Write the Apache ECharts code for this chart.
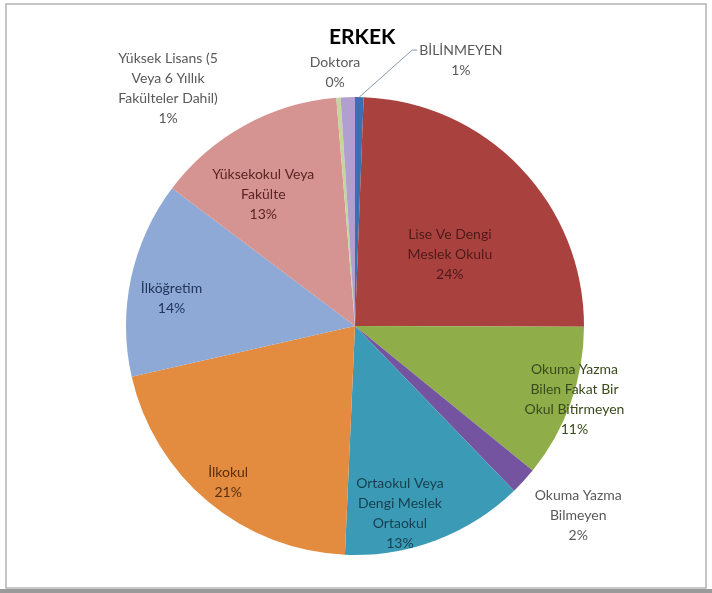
<!DOCTYPE html>
<html>
<head>
<meta charset="utf-8">
<script src="https://cdn.jsdelivr.net/npm/echarts@6/dist/echarts.min.js"></script>
<style>
  html, body { margin: 0; padding: 0; background: #fff; }
  #main { width: 712px; height: 593px; }
</style>
</head>
<body>
<div id="main"></div>
<script>
  // data, in the order Excel drew the slices (clockwise from 12 o'clock)
  var categories = [
    'BİLİNMEYEN',
    'Lise Ve Dengi Meslek Okulu',
    'Okuma Yazma Bilen Fakat Bir Okul Bitirmeyen',
    'Okuma Yazma Bilmeyen',
    'Ortaokul Veya Dengi Meslek Ortaokul',
    'İlkokul',
    'İlköğretim',
    'Yüksekokul Veya Fakülte',
    'Doktora',
    'Yüksek Lisans (5 Veya 6 Yıllık Fakülteler Dahil)'
  ];
  var shares = [0.6, 24.4, 10.8, 1.9, 12.9, 20.7, 13.8, 13.4, 0.3, 1.0];
  var labelNames = [
    'BİLİNMEYEN',
    'Lise Ve Dengi\nMeslek Okulu',
    'Okuma Yazma\nBilen Fakat Bir\nOkul Bitirmeyen',
    'Okuma Yazma\nBilmeyen',
    'Ortaokul Veya\nDengi Meslek\nOrtaokul',
    'İlkokul',
    'İlköğretim',
    'Yüksekokul Veya\nFakülte',
    'Doktora',
    'Yüksek Lisans (5\nVeya 6 Yıllık\nFakülteler Dahil)'
  ];

  var colors = ['#3c6eb4', '#a9423f', '#8fae4a', '#7453a0', '#3b9bb7',
                '#e38b3e', '#8ea9d6', '#d59391', '#c3d69b', '#b1a0cf'];
  var textColors = ['#595959', '#4e1a19', '#3a4a1c', '#595959', '#163f4d',
                    '#5a2f0c', '#22355a', '#5a2523', '#595959', '#595959'];
  // where excel put each label: [angle from 12 o'clock, fraction of radius]
  var labelPolar = [[21.7, 1.25], [52.8, 0.52], [108.4, 1.01], [130.4, 1.28], [166.5, 0.84],
                    [219, 0.88], [278.4, 0.81], [325.1, 0.70], [355.5, 1.11], [321.8, 1.32]];

  var CX = 355, CY = 326, R = 229;
  var total = shares.reduce(function (a, b) { return a + b; }, 0);

  var pieData = categories.map(function (name, i) {
    return {
      name: name,
      value: shares[i],
      itemStyle: { color: colors[i] },
      label: {
        position: i === 0 ? 'outside' : 'inside',
        color: textColors[i]
      },
      labelLine: { show: i === 0 }
    };
  });

  var chart = echarts.init(document.getElementById('main'));
  chart.setOption({
    backgroundColor: '#fff',
    animation: false,
    title: {
      text: 'ERKEK',
      left: 324,
      top: 22,
      textStyle: { fontFamily: 'Lato', fontSize: 21, fontWeight: 'bold', color: '#000' }
    },
    graphic: [{
      type: 'rect',
      shape: { x: 6, y: 4, width: 700, height: 584 },
      style: { fill: null, stroke: '#b4b4b4', lineWidth: 1.5 }
    }, {
      type: 'rect',
      shape: { x: 0, y: 589, width: 712, height: 4 },
      style: { fill: '#9a9a9a' }
    }],
    series: [{
      type: 'pie',
      center: [CX, CY],
      radius: R,
      startAngle: 90,
      clockwise: true,
      avoidLabelOverlap: false,
      data: pieData,
      label: {
        fontFamily: 'Lato',
        fontSize: 14,
        lineHeight: 20,
        align: 'center',
        formatter: function (p) {
          return labelNames[p.dataIndex] + '\n' + Math.round(p.percent) + '%';
        }
      },
      labelLine: { lineStyle: { color: '#8497b0', width: 1 } },
      labelLayout: function (params) {
        var i = params.dataIndex;
        var a = labelPolar[i][0] * Math.PI / 180;
        var x = CX + labelPolar[i][1] * R * Math.sin(a);
        var y = CY - labelPolar[i][1] * R * Math.cos(a);
        var out = { x: x, y: y, align: 'center', verticalAlign: 'middle' };
        if (i === 0) {
          var mid = (shares[0] / 2) / total * 2 * Math.PI;
          var ex = CX + R * Math.sin(mid), ey = CY - R * Math.cos(mid);
          var lx = x - params.labelRect.width / 2;
          var ly = y - 10;
          out.labelLinePoints = [[ex, ey], [lx - 7, ly], [lx - 2, ly]];
        }
        return out;
      }
    }]
  });
</script>
</body>
</html>
